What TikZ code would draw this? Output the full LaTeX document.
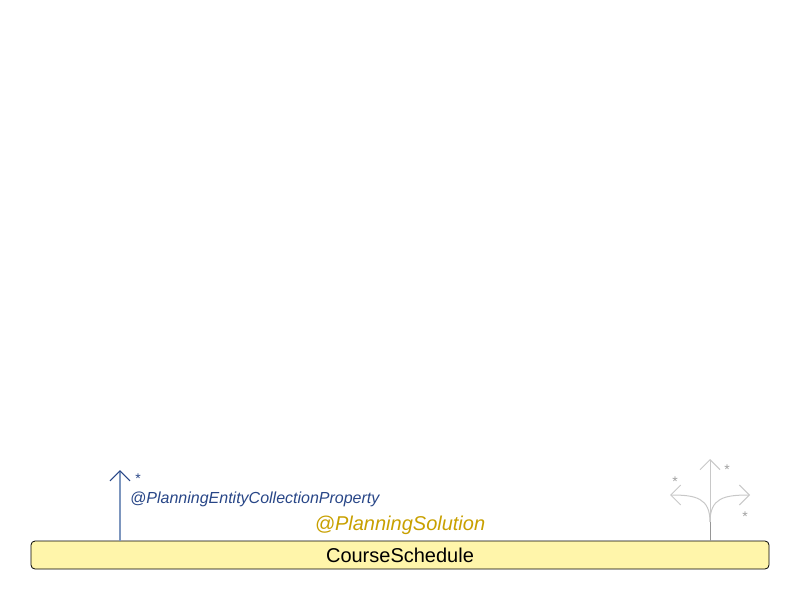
\documentclass[tikz,border=0pt]{standalone}
\usepackage{fontspec}
\setmainfont{Liberation Sans}
\usetikzlibrary{arrows.meta}
\definecolor{boxfill}{RGB}{255,245,170}
\definecolor{solgold}{RGB}{200,160,0}
\definecolor{propblue}{RGB}{40,70,135}
\definecolor{stemblue}{RGB}{125,150,190}
\definecolor{icongray}{RGB}{200,200,200}
\definecolor{icondark}{RGB}{150,150,150}
\tikzset{
    entitybox/.style={draw=black, fill=boxfill, rounded corners=4pt, line width=0.8pt,
        minimum width=738pt, minimum height=28pt, inner sep=0pt, font=\fontsize{20}{22}\selectfont},
    proparrow/.style={stemblue, line width=1.2pt, -{Straight Barb[length=10pt,width=20pt,color=propblue]}},
    iconarrow/.style={icongray, line width=1pt, -{Straight Barb[length=10pt,width=20pt]}},
    starlabel/.style={inner sep=0pt, font=\fontsize{14}{14}\selectfont}
}
\begin{document}
\begin{tikzpicture}[x=1pt, y=-1pt]
    \useasboundingbox (0,0) rectangle (800,600);

    % Solution class
    \node[entitybox] (schedule) at (400,555) {CourseSchedule};
    \node[solgold, inner sep=0pt, font=\fontsize{20}{22}\selectfont\itshape] (solution) at (400,525) {@PlanningSolution};

    % Entity collection property
    \coordinate (blueTip) at (120,470);
    \draw[proparrow] (blueTip |- schedule.north) -- (blueTip);
    \node[starlabel, propblue] (blueStar) at (138,479) {*};
    \node[propblue, anchor=west, inner sep=0pt, font=\fontsize{16}{18}\selectfont\itshape] (entityProp) at (130,499) {@PlanningEntityCollectionProperty};

    % Fork icon
    \coordinate (forkTop) at (710,459);
    \coordinate (forkLeft) at (670,495);
    \coordinate (forkRight) at (750,495);
    \coordinate (forkRoot) at (710,522);
    \draw[iconarrow] (forkTop |- schedule.north) -- (forkTop);
    \draw[iconarrow] (forkRoot) .. controls (710,498) and (696,495) .. (forkLeft);
    \draw[iconarrow] (forkRoot) .. controls (710,498) and (724,495) .. (forkRight);
    \draw[icondark, line width=1pt] (forkTop |- schedule.north) -- (forkRoot);
    \node[starlabel, icongray!80!black] (starLeft) at (675,482) {*};
    \node[starlabel, icongray!80!black] (starTop) at (727,470) {*};
    \node[starlabel, icongray!80!black] (starRight) at (745,517) {*};
\end{tikzpicture}
\end{document}
